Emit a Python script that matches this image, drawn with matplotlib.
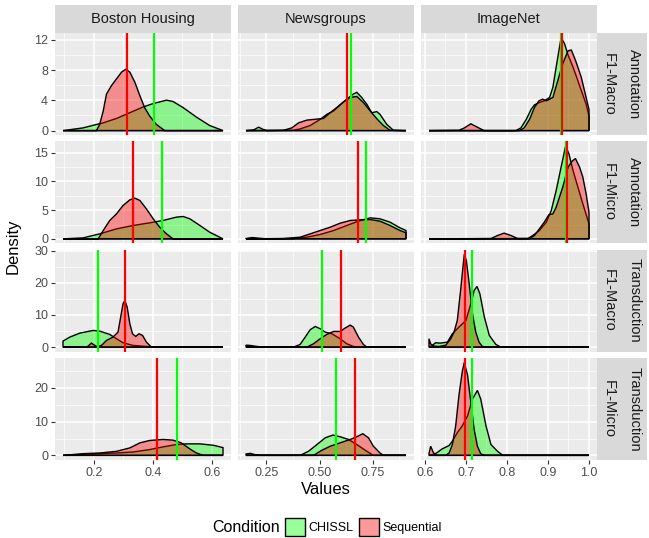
import numpy as np
import matplotlib.pyplot as plt
from matplotlib.patches import Patch
from matplotlib.ticker import AutoMinorLocator

plt.rcParams['font.family'] = ['Liberation Sans', 'DejaVu Sans']

datasets = ['Boston Housing', 'Newsgroups', 'ImageNet']
tasks = ['Annotation', 'Annotation', 'Transduction', 'Transduction']
metrics = ['F1-Macro', 'F1-Micro', 'F1-Macro', 'F1-Micro']
conditions = ['CHISSL', 'Sequential']

# density curves, one list per facet row
boston_chissl_x = [
    [0.096, 0.164, 0.209, 0.232, 0.277, 0.322, 0.367, 0.401, 0.446, 0.468, 0.502, 0.547, 0.592, 0.637],
    [0.096, 0.164, 0.220, 0.277, 0.333, 0.389, 0.434, 0.479, 0.502, 0.525, 0.559, 0.592, 0.637],
    [0.096, 0.119, 0.153, 0.198, 0.220, 0.254, 0.277, 0.299, 0.333, 0.378, 0.412, 0.637],
    [0.096, 0.164, 0.220, 0.277, 0.333, 0.389, 0.434, 0.479, 0.513, 0.559, 0.604, 0.637],
]
boston_chissl_y = [
    [0, 0.36, 0.81, 1.03, 1.61, 2.37, 3.13, 3.58, 4.03, 3.85, 3.05, 1.79, 0.67, 0],
    [0, 0.17, 0.87, 1.74, 2.33, 2.79, 3.20, 3.78, 3.90, 3.49, 2.33, 1.16, 0],
    [1.87, 3.11, 4.35, 5.18, 4.97, 3.94, 2.59, 1.35, 0.52, 0.21, 0, 0],
    [0, 0.30, 0.50, 0.70, 1.00, 1.71, 2.51, 3.21, 3.41, 3.41, 3.0, 2.3],
]
boston_seq_x = [
    [0.096, 0.209, 0.220, 0.232, 0.243, 0.260, 0.277, 0.294, 0.308, 0.322, 0.339, 0.356, 0.372, 0.389, 0.412, 0.440, 0.637],
    [0.096, 0.215, 0.232, 0.254, 0.277, 0.299, 0.322, 0.339, 0.356, 0.378, 0.401, 0.423, 0.446, 0.468, 0.637],
    [0.096, 0.177, 0.192, 0.209, 0.226, 0.243, 0.265, 0.282, 0.291, 0.299, 0.305, 0.313, 0.322, 0.331, 0.342, 0.353, 0.365, 0.378, 0.395, 0.637],
    [0.096, 0.164, 0.220, 0.277, 0.322, 0.356, 0.389, 0.434, 0.468, 0.496, 0.525, 0.547, 0.570, 0.637],
]
boston_seq_y = [
    [0, 0, 0.81, 2.60, 4.84, 5.96, 6.85, 7.74, 8.11, 7.74, 6.40, 4.61, 3.04, 1.93, 0.81, 0, 0],
    [0, 0, 1.45, 3.20, 4.36, 5.81, 6.80, 7.09, 6.69, 5.23, 3.49, 2.03, 0.87, 0, 0],
    [0, 0, 1.24, 0.21, 0.52, 2.07, 3.11, 4.66, 9.33, 13.47, 14.51, 12.44, 7.25, 4.15, 3.32, 4.15, 3.63, 1.55, 0, 0],
    [0, 0.50, 0.70, 1.20, 2.21, 3.71, 4.42, 4.72, 4.52, 3.71, 1.91, 0.70, 0, 0],
]

news_chissl_x = [
    [0.155, 0.191, 0.214, 0.238, 0.253, 0.378, 0.409, 0.456, 0.503, 0.534, 0.566, 0.597, 0.628, 0.659, 0.675, 0.698, 0.722, 0.745, 0.769, 0.784, 0.816, 0.847, 0.906],
    [0.155, 0.183, 0.214, 0.253, 0.378, 0.441, 0.503, 0.566, 0.628, 0.691, 0.738, 0.784, 0.831, 0.878, 0.906],
    [0.155, 0.175, 0.206, 0.238, 0.378, 0.409, 0.433, 0.456, 0.480, 0.503, 0.527, 0.558, 0.597, 0.628, 0.659, 0.691, 0.906],
    [0.155, 0.175, 0.198, 0.222, 0.409, 0.448, 0.488, 0.527, 0.563, 0.597, 0.636, 0.675, 0.722, 0.753, 0.906],
]
news_chissl_y = [
    [0, 0.09, 0.45, 0.13, 0, 0.04, 0.22, 0.67, 1.48, 2.15, 2.60, 3.40, 4.16, 4.84, 5.06, 4.39, 3.49, 2.37, 2.51, 2.15, 0.81, 0.04, 0],
    [0.06, 0.23, 0.12, 0, 0.06, 0.29, 0.76, 1.45, 2.33, 3.20, 3.66, 3.49, 2.91, 1.92, 1.45],
    [0.62, 0.52, 0.21, 0, 0, 0.83, 3.11, 5.39, 6.42, 5.70, 4.66, 4.15, 2.59, 1.04, 0.21, 0, 0],
    [0.40, 0.60, 0.20, 0, 0, 1.20, 3.21, 5.22, 6.02, 5.52, 4.72, 3.21, 1.20, 0, 0],
]
news_seq_x = [
    [0.155, 0.331, 0.370, 0.402, 0.441, 0.488, 0.519, 0.550, 0.581, 0.613, 0.644, 0.675, 0.706, 0.738, 0.769, 0.800, 0.831, 0.906],
    [0.155, 0.331, 0.409, 0.456, 0.503, 0.550, 0.597, 0.644, 0.691, 0.738, 0.784, 0.831, 0.878, 0.906],
    [0.155, 0.441, 0.472, 0.503, 0.534, 0.566, 0.597, 0.620, 0.644, 0.659, 0.683, 0.706, 0.722, 0.906],
    [0.155, 0.472, 0.511, 0.550, 0.597, 0.644, 0.675, 0.703, 0.730, 0.753, 0.784, 0.800, 0.906],
]
news_seq_y = [
    [0, 0.04, 0.36, 1.03, 1.39, 1.52, 1.61, 2.37, 3.05, 3.81, 4.39, 4.52, 3.72, 2.60, 1.57, 0.67, 0.04, 0],
    [0, 0.06, 0.29, 0.87, 1.45, 2.03, 2.73, 3.20, 3.31, 3.37, 3.08, 2.33, 1.45, 1.05],
    [0, 0, 1.04, 2.59, 3.94, 4.87, 4.87, 5.91, 6.84, 6.22, 3.11, 0.83, 0, 0],
    [0, 0, 1.51, 2.71, 3.71, 4.72, 5.52, 6.43, 5.22, 2.71, 0.70, 0, 0],
]

imagenet_chissl_x = [
    [0.610, 0.822, 0.834, 0.847, 0.859, 0.867, 0.879, 0.891, 0.904, 0.912, 0.920, 0.932, 0.940, 0.949, 0.961, 0.977, 0.993, 1.0],
    [0.610, 0.851, 0.863, 0.879, 0.896, 0.908, 0.920, 0.932, 0.943, 0.951, 0.961, 0.973, 0.985, 1.0],
    [0.610, 0.618, 0.626, 0.638, 0.655, 0.667, 0.683, 0.700, 0.712, 0.720, 0.727, 0.734, 0.745, 0.757, 0.773, 0.785, 1.0],
    [0.610, 0.626, 0.642, 0.659, 0.667, 0.679, 0.691, 0.704, 0.716, 0.728, 0.736, 0.749, 0.761, 0.777, 0.790, 1.0],
]
imagenet_chissl_y = [
    [0, 0, 0.36, 1.48, 2.82, 3.40, 3.72, 3.94, 4.39, 5.73, 8.42, 12.3, 11.55, 9.99, 8.42, 5.96, 3.49, 1.93],
    [0, 0.06, 0.58, 1.45, 2.91, 4.94, 8.43, 12.50, 16.2, 14.83, 11.92, 9.01, 6.10, 2.62],
    [0, 0.52, 1.35, 1.24, 1.55, 4.15, 6.22, 8.29, 13.47, 17.62, 18.86, 16.58, 9.33, 3.63, 0.83, 0, 0],
    [0, 0.50, 1.91, 2.91, 4.22, 6.73, 8.73, 11.75, 16.77, 19.28, 16.77, 8.73, 3.21, 1.20, 0, 0],
]
imagenet_seq_x = [
    [0.610, 0.683, 0.696, 0.712, 0.728, 0.744, 0.830, 0.842, 0.855, 0.867, 0.878, 0.887, 0.896, 0.912, 0.924, 0.936, 0.949, 0.957, 0.967, 0.981, 0.993, 1.0],
    [0.610, 0.761, 0.777, 0.793, 0.810, 0.826, 0.855, 0.867, 0.879, 0.891, 0.902, 0.912, 0.920, 0.936, 0.949, 0.959, 0.967, 0.977, 0.985, 0.993, 1.0],
    [0.610, 0.614, 0.622, 0.634, 0.651, 0.663, 0.671, 0.679, 0.687, 0.696, 0.701, 0.708, 0.716, 0.724, 0.732, 0.740, 0.749, 1.0],
    [0.610, 0.614, 0.620, 0.626, 0.651, 0.659, 0.667, 0.675, 0.683, 0.691, 0.696, 0.704, 0.712, 0.720, 0.728, 0.736, 0.744, 1.0],
]
imagenet_seq_y = [
    [0, 0.04, 0.35, 0.9, 0.45, 0, 0, 0.36, 1.48, 3.05, 3.94, 4.16, 3.94, 4.39, 6.63, 8.87, 10.57, 10.66, 9.31, 7.08, 4.39, 2.8],
    [0, 0.06, 0.58, 1.0, 0.58, 0.06, 0.06, 0.58, 1.74, 2.91, 4.19, 4.36, 5.52, 9.01, 12.50, 13.55, 14.0, 12.50, 10.76, 7.85, 4.65],
    [2.6, 1.0, 0.3, 0.2, 0.6, 2.59, 4.66, 8.29, 17.62, 28.9, 26.94, 19.69, 10.36, 4.66, 1.55, 0.21, 0, 0],
    [0.5, 2.71, 1.0, 0, 0, 0.70, 3.21, 8.73, 17.77, 24.80, 27.6, 23.80, 15.76, 7.73, 2.71, 0.50, 0, 0],
]

# mean lines, rows x datasets
chissl_means = [[0.405, 0.650, 0.931], [0.431, 0.720, 0.945], [0.215, 0.5125, 0.714], [0.482, 0.578, 0.716]]
seq_means = [[0.313, 0.630, 0.934], [0.334, 0.681, 0.946], [0.304, 0.600, 0.697], [0.4155, 0.667, 0.698]]

x_ticks = [[0.2, 0.4, 0.6], [0.25, 0.5, 0.75], [0.6, 0.7, 0.8, 0.9, 1.0]]
x_ticklabels = [['0.2', '0.4', '0.6'], ['0.25', '0.50', '0.75'], ['0.6', '0.7', '0.8', '0.9', '1.0']]
y_ticks = [[0, 4, 8, 12], [0, 5, 10, 15], [0, 10, 20, 30], [0, 10, 20]]

chissl_x = [boston_chissl_x, news_chissl_x, imagenet_chissl_x]
chissl_y = [boston_chissl_y, news_chissl_y, imagenet_chissl_y]
seq_x = [boston_seq_x, news_seq_x, imagenet_seq_x]
seq_y = [boston_seq_y, news_seq_y, imagenet_seq_y]

green = '#00FF00'
red = '#FF0000'
W, H = 649, 538
fig = plt.figure(figsize=(W / 100, H / 100), dpi=100)


def fbox(x, y, w, h):
    return [x / W, 1 - (y + h) / H, w / W, h / H]


col_left = [55, 238, 421]
col_w = 176
row_top = [33, 141.25, 249.5, 357.75]
row_h = 102.25

# ggplot-like free scales: data range + 5% each side
xlims = []
for c in range(3):
    allx = np.concatenate([np.r_[a] for a in chissl_x[c] + seq_x[c]])
    pad = 0.05 * (allx.max() - allx.min())
    xlims.append((allx.min() - pad, allx.max() + pad))
ylims = []
for r in range(4):
    m = max(max(max(chissl_y[c][r]), max(seq_y[c][r])) for c in range(3))
    ylims.append((-0.05 * m, 1.05 * m))

for r in range(4):
    for c in range(3):
        ax = fig.add_axes(fbox(col_left[c], row_top[r], col_w, row_h))
        ax.set_facecolor('#EBEBEB')
        for s in ax.spines.values():
            s.set_visible(False)
        ax.set_xlim(xlims[c])
        ax.set_ylim(ylims[r])
        ax.set_xticks(x_ticks[c])
        ax.set_yticks(y_ticks[r])
        ax.xaxis.set_minor_locator(AutoMinorLocator(2))
        ax.yaxis.set_minor_locator(AutoMinorLocator(2))
        ax.grid(which='major', color='white', lw=1.1)
        ax.grid(which='minor', color='white', lw=0.5)
        ax.set_axisbelow(True)
        ax.tick_params(which='minor', length=0)
        ax.tick_params(which='major', length=3, width=0.8, color='#333333',
                       labelcolor='#4D4D4D', labelsize=9, pad=2)
        if r == 3:
            ax.set_xticklabels(x_ticklabels[c])
        else:
            ax.tick_params(axis='x', length=0, labelbottom=False)
        if c != 0:
            ax.tick_params(axis='y', length=0, labelleft=False)

        for xs, ys, col in [(chissl_x[c][r], chissl_y[c][r], green),
                            (seq_x[c][r], seq_y[c][r], red)]:
            px = np.r_[xs[0], xs, xs[-1]]
            py = np.r_[0, ys, 0]
            ax.fill(px, py, facecolor=col, alpha=0.4, lw=0)
            ax.fill(px, py, facecolor='none', edgecolor='black', lw=1.0)
        ax.axvline(chissl_means[r][c], color=green, lw=1.6)
        ax.axvline(seq_means[r][c], color=red, lw=1.6)

# column strips
for c in range(3):
    sax = fig.add_axes(fbox(col_left[c], 5, col_w, 28))
    sax.set_facecolor('#D9D9D9')
    sax.set_xticks([])
    sax.set_yticks([])
    for s in sax.spines.values():
        s.set_visible(False)
    sax.text(0.5, 0.5, datasets[c], ha='center', va='center', fontsize=10.5,
             color='#1A1A1A', transform=sax.transAxes)

# row strips (metric inside, task outside)
for r in range(4):
    for k, lab in enumerate([metrics[r], tasks[r]]):
        sax = fig.add_axes(fbox(597 + k * 25, row_top[r], 24.5, row_h))
        sax.set_facecolor('#D9D9D9')
        sax.set_xticks([])
        sax.set_yticks([])
        for s in sax.spines.values():
            s.set_visible(False)
        sax.text(0.5, 0.5, lab, ha='center', va='center', rotation=270,
                 fontsize=10.5, color='#1A1A1A', transform=sax.transAxes)

fig.text(326 / W, 1 - 490 / H, 'Values', ha='center', va='center', fontsize=12)
fig.text(13 / W, 1 - 246 / H, 'Density', ha='center', va='center', rotation=90, fontsize=12)

fig.text(212 / W, 1 - 527 / H, 'Condition', ha='left', va='center', fontsize=11.5)
handles = [Patch(facecolor=(0, 1, 0, 0.4), edgecolor='black', lw=1.0),
           Patch(facecolor=(1, 0, 0, 0.4), edgecolor='black', lw=1.0)]
fig.legend(handles, conditions, loc='center left', ncol=2,
           bbox_to_anchor=(285 / W, 1 - 527 / H), frameon=False,
           handlelength=1.6, handleheight=1.8, handletextpad=0.3,
           columnspacing=0.4, borderpad=0, borderaxespad=0, fontsize=9)

fig.savefig('out.png', dpi=100, facecolor='white')
